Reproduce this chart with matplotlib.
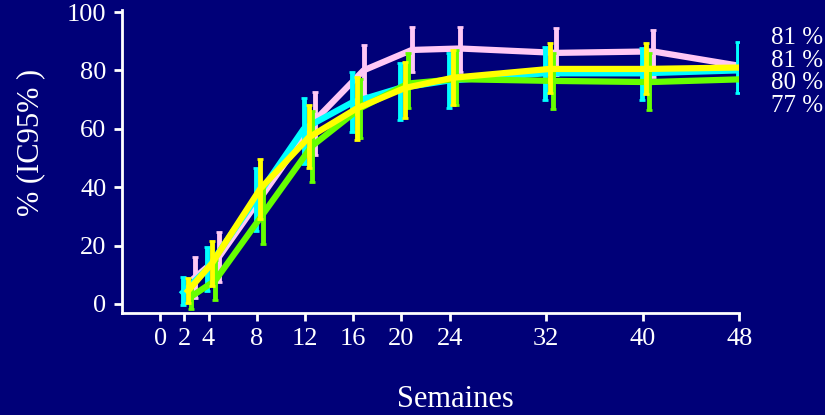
import numpy as np
import matplotlib
matplotlib.use("Agg")
import matplotlib.pyplot as plt

plt.rcParams['font.family'] = ['Liberation Serif', 'DejaVu Serif']

weeks = [2, 4, 8, 12, 16, 20, 24, 32, 40, 48]
weeks_pink = [2, 4, 12, 16, 20, 24, 32, 40, 48]
xticks = [0, 2, 4, 8, 12, 16, 20, 24, 32, 40, 48]
yticks = [0, 20, 40, 60, 80, 100]

pink_mid = [9, 16, 63, 80, 87, 87.5, 86, 86.5, 81]
pink_lo = [2, 7.5, 51, 71.6, 79.5, 79.5, 78.4, 77.7, 72.3]
pink_hi = [16, 24.7, 72.6, 88.7, 95, 95, 94.5, 93.8, 90]

cyan_mid = [4, 12, 36, 60, 69, 74, 76.5, 79, 79, 80]
cyan_lo = [-0.3, 4.5, 25, 48, 59, 63, 67, 70, 70, 72.3]
cyan_hi = [9.2, 19.5, 46.6, 70.5, 79.5, 82.5, 86, 88, 87.7, 89.7]

green_mid = [2.5, 8, 31, 54, 67, 75.5, 77, 76.4, 76, 77]
green_lo = [-1.7, 1.4, 20.5, 41.8, 57, 67, 68, 66.8, 66.4, 67.8]
green_hi = [6.5, 15, 40.8, 66, 77, 86, 87, 86, 86, 87]

yellow_mid = [4.5, 14, 39.5, 57, 67, 74, 77.5, 80.5, 80.5, 81]
yellow_lo = [0.3, 6, 29, 46.6, 56, 63.7, 68, 72.3, 72, 71.6]
yellow_hi = [9, 21.6, 49.7, 68, 77.7, 83, 87, 89.4, 89.4, 89.5]

end_labels = ["81 %", "81 %", "80 %", "77 %"]

bg = '#000078'
fig = plt.figure(figsize=(8.25, 4.15), dpi=100, facecolor=bg)
ax = fig.add_axes([0.1475, 0.2458, 0.7485, 0.7302])
ax.set_facecolor(bg)

series = [
    (weeks_pink, pink_mid, pink_lo, pink_hi, '#ffc8f5', 0.85),
    (weeks, cyan_mid, cyan_lo, cyan_hi, '#00ffff', -0.1),
    (weeks, green_mid, green_lo, green_hi, '#66ff00', 0.55),
    (weeks, yellow_mid, yellow_lo, yellow_hi, '#ffff00', 0.3),
]
for i, (wx, mid, lo, hi, col, shift) in enumerate(series):
    x = np.array(wx, dtype=float) + shift
    mid = np.array(mid)
    yerr = np.vstack([mid - np.array(lo), np.array(hi) - mid])
    ax.errorbar(x, mid, yerr=yerr, color=col, lw=4.5, elinewidth=3.5,
                capsize=2.5, capthick=2, zorder=3 + i)

ax.set_xlim(-3.2, 48)
ax.set_ylim(-3.1, 100.7)
ax.set_xticks(xticks)
ax.set_yticks(yticks)
for s in ('top', 'right'):
    ax.spines[s].set_visible(False)
for s in ('left', 'bottom'):
    ax.spines[s].set_color('white')
    ax.spines[s].set_linewidth(2)
ax.tick_params(colors='white', width=2, length=6, labelsize=19, pad=5)

ax.set_xlabel('Semaines', color='white', fontsize=22, va='center')
ax.xaxis.set_label_coords(0.54, -0.287)
ax.set_ylabel('% (IC95% )', color='white', fontsize=22, va='center')
ax.yaxis.set_label_coords(-0.148, 0.564)

for lab, yv in zip(end_labels, [91, 83.2, 75.7, 67.8]):
    ax.text(50.6, yv, lab, color='white', fontsize=18, va='center',
            ha='left', clip_on=False)

fig.savefig('out.png', dpi=100, facecolor=bg)
